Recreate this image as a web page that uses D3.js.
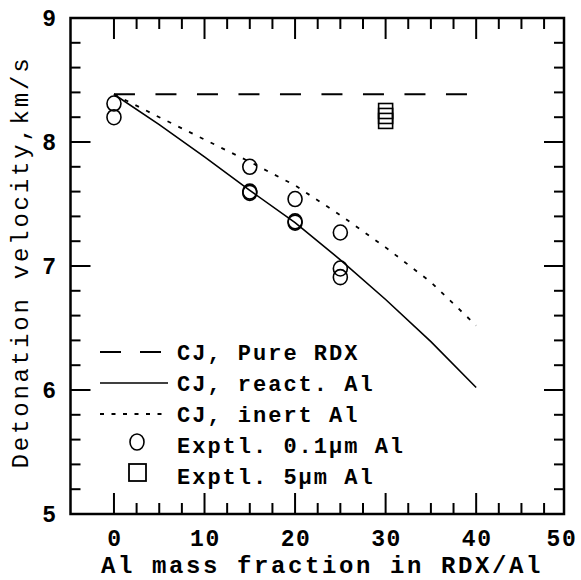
<!DOCTYPE html>
<html>
<head>
<meta charset="utf-8">
<script src="https://cdn.jsdelivr.net/npm/d3@7"></script>
<style>
    body { margin: 0; background: #fff; }
    text { font-family: "Liberation Mono", "Courier New", monospace; fill: #000; }
</style>
</head>
<body>
<svg id="chart" width="581" height="580"></svg>
<script>
(function () {
    'use strict';

    // model curves (CJ calculations)
    var alFraction = [0, 5, 10, 15, 20, 25, 30, 35, 40];
    var cjReact = [8.385, 8.14, 7.88, 7.61, 7.35, 7.05, 6.73, 6.39, 6.02];
    var cjInert = [8.385, 8.20, 8.02, 7.84, 7.65, 7.41, 7.15, 6.87, 6.52];
    var pureX = [0, 40];
    var pureRdx = [8.385, 8.385];

    // experiments
    var smallX = [0, 0, 15, 15, 15, 20, 20, 20, 25, 25, 25];
    var smallV = [8.31, 8.20, 7.80, 7.60, 7.59, 7.54, 7.36, 7.35, 7.27, 6.98, 6.91];
    var largeX = [30, 30, 30];
    var largeV = [8.25, 8.21, 8.17];

    var xTicks = [0, 10, 20, 30, 40, 50];
    var yTicks = [5, 6, 7, 8, 9];

    var legendLabels = ["CJ, Pure RDX", "CJ, react. Al", "CJ, inert Al", "Exptl. 0.1\u00b5m Al", "Exptl. 5\u00b5m Al"];

    var svg = d3.select("#chart");
    var left = 70.5, right = 564, top = 18, bottom = 514;

    var x = d3.scaleLinear().domain([-4.8, 49.7]).range([left, right]);
    var y = d3.scaleLinear().domain([5, 9]).range([bottom, top]);

    var g = svg.append("g");

    // ticks, all four sides, pointing inward
    var xMinor = d3.range(0, 48, 2.5);
    var yMinor = d3.range(5, 9.01, 0.2);

    xMinor.forEach(function (v) {
        var len = (v % 10 === 0) ? 21 : 11;
        g.append("line").attr("x1", x(v)).attr("x2", x(v))
            .attr("y1", bottom).attr("y2", bottom - len)
            .attr("stroke", "#000").attr("stroke-width", 2);
        g.append("line").attr("x1", x(v)).attr("x2", x(v))
            .attr("y1", top).attr("y2", top + len)
            .attr("stroke", "#000").attr("stroke-width", 2);
    });

    yMinor.forEach(function (v) {
        var major = Math.abs(v - Math.round(v)) < 1e-6;
        var len = major ? 20 : 10;
        g.append("line").attr("x1", left).attr("x2", left + len)
            .attr("y1", y(v)).attr("y2", y(v))
            .attr("stroke", "#000").attr("stroke-width", 2);
        g.append("line").attr("x1", right).attr("x2", right - len)
            .attr("y1", y(v)).attr("y2", y(v))
            .attr("stroke", "#000").attr("stroke-width", 2);
    });

    g.append("rect")
        .attr("x", left).attr("y", top)
        .attr("width", right - left).attr("height", bottom - top)
        .attr("fill", "none").attr("stroke", "#000").attr("stroke-width", 2.5);

    // tick labels
    g.selectAll(".xlab").data(xTicks).enter().append("text")
        .attr("x", function (d) { return Math.min(x(d) + 1, 562); })
        .attr("y", 546)
        .attr("text-anchor", "middle")
        .style("font-size", "23px").style("font-weight", "bold")
        .style("letter-spacing", "1.6px")
        .text(function (d) { return d; });

    g.selectAll(".ylab").data(yTicks).enter().append("text")
        .attr("x", 56)
        .attr("y", function (d) { return y(d); })
        .attr("dy", "0.35em")
        .attr("text-anchor", "end")
        .style("font-size", "23px").style("font-weight", "bold")
        .text(function (d) { return d; });

    // axis titles
    g.append("text")
        .attr("x", 322).attr("y", 573)
        .attr("text-anchor", "middle")
        .style("font-size", "24px").style("font-weight", "bold")
        .style("letter-spacing", "2.6px")
        .text("Al mass fraction in RDX/Al");

    g.append("text")
        .attr("transform", "translate(28," + ((top + bottom) / 2 - 4) + ") rotate(-90)")
        .attr("text-anchor", "middle")
        .style("font-size", "24px")
        .style("letter-spacing", "2.8px")
        .text("Detonation velocity,km/s");

    // lines
    var line = d3.line()
        .x(function (d) { return x(d[0]); })
        .y(function (d) { return y(d[1]); });

    g.append("path")
        .attr("d", line(d3.zip(pureX, pureRdx)))
        .attr("fill", "none").attr("stroke", "#000").attr("stroke-width", 2)
        .attr("stroke-dasharray", "21,20.5");

    g.append("path")
        .attr("d", line(d3.zip(alFraction, cjReact)))
        .attr("fill", "none").attr("stroke", "#000").attr("stroke-width", 1.6);

    g.append("path")
        .attr("d", line(d3.zip(alFraction, cjInert)))
        .attr("fill", "none").attr("stroke", "#000").attr("stroke-width", 1.8)
        .attr("stroke-dasharray", "4,8");

    // experimental points
    g.selectAll(".circ").data(d3.zip(smallX, smallV)).enter().append("ellipse")
        .attr("cx", function (d) { return x(d[0]); })
        .attr("cy", function (d) { return y(d[1]); })
        .attr("rx", 7).attr("ry", 7.5)
        .attr("fill", "none").attr("stroke", "#000").attr("stroke-width", 1.6);

    g.selectAll(".sq").data(d3.zip(largeX, largeV)).enter().append("rect")
        .attr("x", function (d) { return x(d[0]) - 7; })
        .attr("y", function (d) { return y(d[1]) - 7.5; })
        .attr("width", 14).attr("height", 15)
        .attr("fill", "none").attr("stroke", "#000").attr("stroke-width", 1.6);

    // legend
    var legY = [352, 383, 414, 445, 476];
    var lg = g.append("g");

    lg.append("line").attr("x1", 100).attr("x2", 162)
        .attr("y1", legY[0]).attr("y2", legY[0])
        .attr("stroke", "#000").attr("stroke-width", 2).attr("stroke-dasharray", "21,19");
    lg.append("line").attr("x1", 100).attr("x2", 168)
        .attr("y1", legY[1]).attr("y2", legY[1])
        .attr("stroke", "#000").attr("stroke-width", 1.6);
    lg.append("line").attr("x1", 100).attr("x2", 168)
        .attr("y1", legY[2]).attr("y2", legY[2])
        .attr("stroke", "#000").attr("stroke-width", 1.8).attr("stroke-dasharray", "4,7.5");
    lg.append("ellipse").attr("cx", 137).attr("cy", legY[3] - 3)
        .attr("rx", 7).attr("ry", 8)
        .attr("fill", "none").attr("stroke", "#000").attr("stroke-width", 1.6);
    lg.append("rect").attr("x", 129).attr("y", legY[4] - 12)
        .attr("width", 17).attr("height", 17)
        .attr("fill", "none").attr("stroke", "#000").attr("stroke-width", 1.8);

    lg.selectAll(".legtext").data(legendLabels).enter().append("text")
        .attr("x", 177)
        .attr("y", function (d, i) { return legY[i]; })
        .attr("dy", "0.35em")
        .style("font-size", "22px").style("font-weight", "bold")
        .style("letter-spacing", "2px")
        .text(function (d) { return d; });
})();
</script>
</body>
</html>
